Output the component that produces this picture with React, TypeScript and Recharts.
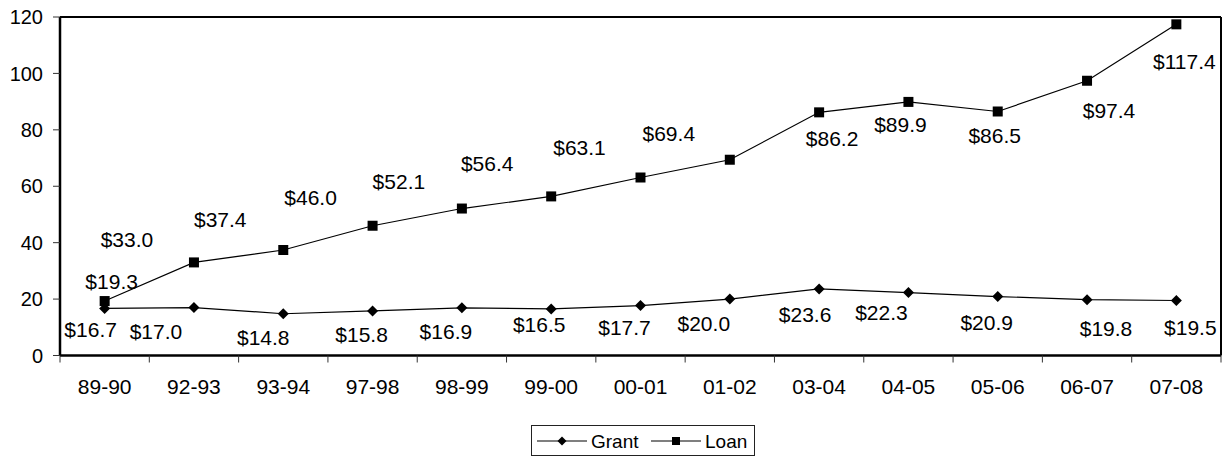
import React from "react";
import {
  LineChart,
  Line,
  XAxis,
  YAxis,
  Legend,
  LabelList,
  ReferenceLine,
} from "recharts";

// Academic years on the category axis
const years = [
  "89-90", "92-93", "93-94", "97-98", "98-99", "99-00", "00-01",
  "01-02", "03-04", "04-05", "05-06", "06-07", "07-08",
];

// Aid totals, billions of dollars
const grant = [16.7, 17.0, 14.8, 15.8, 16.9, 16.5, 17.7, 20.0, 23.6, 22.3, 20.9, 19.8, 19.5];
const loan = [19.3, 33.0, 37.4, 46.0, 52.1, 56.4, 63.1, 69.4, 86.2, 89.9, 86.5, 97.4, 117.4];

const yTicks = [0, 20, 40, 60, 80, 100, 120];

const rows = years.map((year, i) => ({ year, Grant: grant[i], Loan: loan[i] }));

// hand-placed label nudges [dx, dy] relative to each point
const grantShift = [
  [-14, 21], [-38, 24], [-20, 24], [-11, 24], [-16, 24], [-12, 16], [-16, 22],
  [-26, 24], [-14, 26], [-27, 20], [-11, 26], [19, 29], [14, 27],
];
const loanShift = [
  [7, -20], [-67, -23], [-63, -31], [-62, -28], [-63, -27], [-64, -33], [-61, -30],
  [-61, -26], [13, 26], [-8, 23], [-3, 24], [22, 30], [8, 37],
];

const FONT = "'Liberation Sans', Arial, sans-serif";
const W = 1229;
const H = 458;
const PLOT_LEFT = 60;
const PLOT_RIGHT = 1221;
const BAND = (PLOT_RIGHT - PLOT_LEFT) / years.length;

const money = (v: number) => `$${v.toFixed(1)}`;

const Square = (p: any) => (
  <rect key={`sq-${p.index}`} x={p.cx - 5} y={p.cy - 5} width={10} height={10} fill="#000" />
);

const Diamond = (p: any) => {
  const { cx, cy } = p;
  const r = 5.5;
  return (
    <polygon
      key={`dm-${p.index}`}
      points={`${cx},${cy - r} ${cx + r},${cy} ${cx},${cy + r} ${cx - r},${cy}`}
      fill="#000"
    />
  );
};

const shiftedLabel = (shift: number[][]) => (p: any) => {
  const [dx, dy] = shift[p.index] || [0, 0];
  return (
    <text
      x={p.x + dx}
      y={p.y + dy}
      textAnchor="middle"
      dominantBaseline="central"
      fontSize={21}
      fontFamily={FONT}
      fill="#000"
    >
      {money(Number(p.value))}
    </text>
  );
};

// Excel-style category tick: marks sit on band edges, label in the middle
const YearTick = (props: any) => {
  const { x, y, payload } = props;
  const half = BAND / 2;
  const last = payload.value === years[years.length - 1];
  return (
    <g>
      <line x1={x - half} x2={x - half} y1={y} y2={y + 7} stroke="#333" />
      {last && <line x1={x + half} x2={x + half} y1={y} y2={y + 7} stroke="#333" />}
      <text
        x={x}
        y={y + 31}
        textAnchor="middle"
        dominantBaseline="central"
        fontSize={21}
        fontFamily={FONT}
        fill="#000"
      >
        {payload.value}
      </text>
    </g>
  );
};

const LegendBox = ({ payload }: any) => (
  <div
    style={{
      width: 224,
      height: 31,
      boxSizing: "border-box",
      border: "1px solid #222",
      background: "#fff",
    }}
  >
    <svg width={222} height={29} style={{ display: "block" }}>
      {(payload || []).map((entry: any, i: number) => {
        const ox = 5 + i * 114;
        const cy = 15;
        const mx = ox + 25;
        return (
          <g key={entry.value}>
            <line x1={ox} x2={ox + 50} y1={cy} y2={cy} stroke="#000" strokeWidth={1.2} />
            {entry.dataKey === "Loan" ? (
              <rect x={mx - 4} y={cy - 4} width={8} height={8} fill="#000" />
            ) : (
              <polygon
                points={`${mx},${cy - 4.5} ${mx + 4.5},${cy} ${mx},${cy + 4.5} ${mx - 4.5},${cy}`}
                fill="#000"
              />
            )}
            <text
              x={ox + 54}
              y={cy}
              dominantBaseline="central"
              fontSize={19}
              fontFamily={FONT}
              fill="#000"
            >
              {entry.value}
            </text>
          </g>
        );
      })}
    </svg>
  </div>
);

const App: React.FC = () => (
  <div style={{ position: "absolute", left: 0, top: 0, background: "#fff" }}>
    <LineChart
      width={W}
      height={H}
      data={rows}
      margin={{ top: 17, right: 0, left: 0, bottom: 2 }}
    >
      <XAxis
        dataKey="year"
        height={69.5}
        padding={{ left: BAND / 2, right: BAND / 2 }}
        tickSize={0}
        tickMargin={0}
        tickLine={false}
        interval={0}
        axisLine={{ stroke: "#000", strokeWidth: 2.5 }}
        tick={<YearTick />}
      />
      <YAxis
        domain={[0, 120]}
        ticks={yTicks}
        width={60}
        tickSize={7}
        tickMargin={10}
        axisLine={{ stroke: "#000", strokeWidth: 2.5 }}
        tickLine={{ stroke: "#333" }}
        tick={{ fontSize: 20, fill: "#000", fontFamily: FONT }}
      />
      <YAxis
        yAxisId="frame"
        orientation="right"
        domain={[0, 120]}
        width={8}
        tick={false}
        tickLine={false}
        axisLine={{ stroke: "#000", strokeWidth: 2 }}
      />
      <ReferenceLine y={120} stroke="#000" strokeWidth={2} />
      <Legend
        verticalAlign="bottom"
        wrapperStyle={{ left: 531, bottom: 2, width: 224 }}
        content={<LegendBox />}
      />
      <Line
        type="linear"
        dataKey="Grant"
        name="Grant"
        stroke="#000"
        strokeWidth={1.2}
        dot={Diamond}
        activeDot={false}
        isAnimationActive={false}
      >
        <LabelList dataKey="Grant" content={shiftedLabel(grantShift)} />
      </Line>
      <Line
        type="linear"
        dataKey="Loan"
        name="Loan"
        stroke="#000"
        strokeWidth={1.2}
        dot={Square}
        activeDot={false}
        isAnimationActive={false}
      >
        <LabelList dataKey="Loan" content={shiftedLabel(loanShift)} />
      </Line>
    </LineChart>
  </div>
);

export default App;
